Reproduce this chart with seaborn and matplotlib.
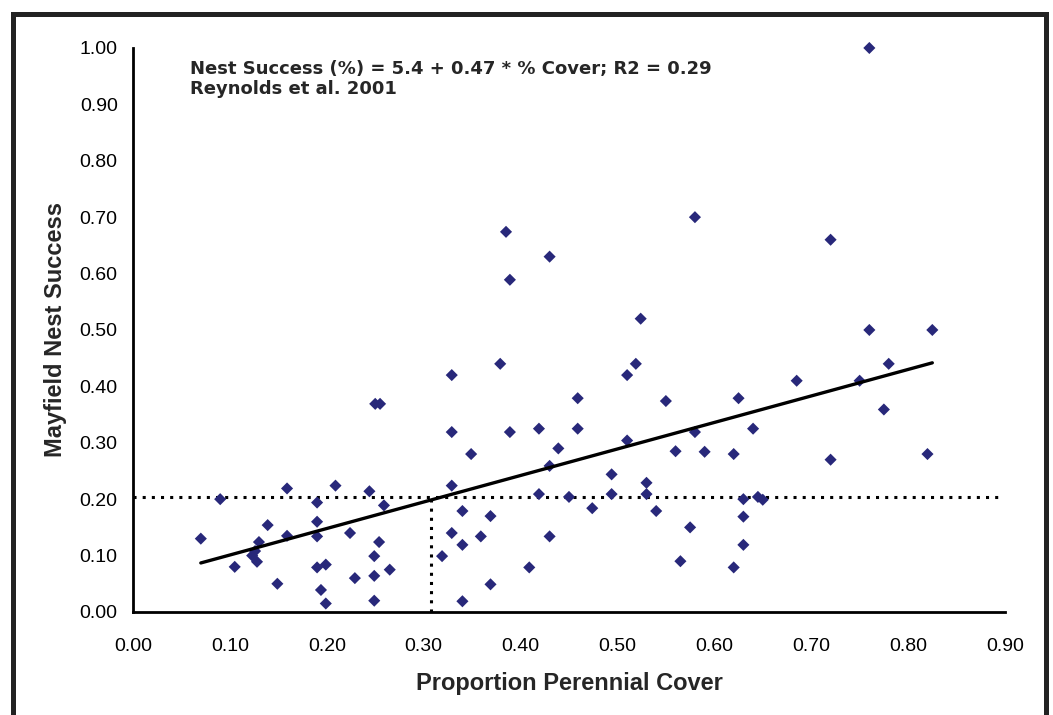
import matplotlib
matplotlib.use("Agg")
import matplotlib.pyplot as plt
import matplotlib.patches as mpatches
import numpy as np
import pandas as pd
import seaborn as sns

# ── Data ──────────────────────────────────────────────────────
cover = [0.070, 0.090, 0.105, 0.123, 0.126, 0.128, 0.130, 0.139, 0.149, 0.159,
         0.159, 0.190, 0.190, 0.190, 0.190, 0.194, 0.199, 0.199, 0.209, 0.224,
         0.229, 0.244, 0.249, 0.249, 0.249, 0.250, 0.255, 0.254, 0.259, 0.265,
         0.319, 0.329, 0.329, 0.329, 0.329, 0.340, 0.340, 0.340, 0.349, 0.359,
         0.369, 0.369, 0.379, 0.385, 0.389, 0.389, 0.409, 0.419, 0.419, 0.430,
         0.430, 0.430, 0.439, 0.450, 0.459, 0.459, 0.474, 0.494, 0.494, 0.510,
         0.510, 0.519, 0.524, 0.530, 0.530, 0.540, 0.550, 0.560, 0.565, 0.575,
         0.580, 0.580, 0.590, 0.620, 0.620, 0.625, 0.630, 0.630, 0.630, 0.640,
         0.645, 0.650, 0.685, 0.720, 0.720, 0.750, 0.760, 0.760, 0.775, 0.780,
         0.820, 0.825]
success = [0.130, 0.200, 0.080, 0.100, 0.108, 0.089, 0.124, 0.154, 0.050, 0.219,
           0.135, 0.194, 0.160, 0.134, 0.079, 0.039, 0.084, 0.015, 0.224, 0.140,
           0.060, 0.214, 0.099, 0.064, 0.020, 0.369, 0.369, 0.124, 0.189, 0.075,
           0.099, 0.420, 0.319, 0.224, 0.140, 0.179, 0.119, 0.019, 0.280, 0.134,
           0.170, 0.049, 0.440, 0.674, 0.589, 0.319, 0.079, 0.325, 0.209, 0.630,
           0.259, 0.134, 0.290, 0.204, 0.379, 0.325, 0.184, 0.244, 0.209, 0.420,
           0.304, 0.440, 0.520, 0.229, 0.209, 0.179, 0.374, 0.285, 0.090, 0.150,
           0.700, 0.319, 0.284, 0.280, 0.079, 0.379, 0.200, 0.169, 0.119, 0.325,
           0.204, 0.199, 0.410, 0.660, 0.270, 0.410, 1.000, 0.500, 0.359, 0.440,
           0.280, 0.500]

# published fit: Nest Success = 5.4 + 0.47 * % Cover
INTERCEPT = 0.054
SLOPE = 0.47
THRESH_Y = 0.203   # dotted reference level
THRESH_X = 0.308   # cover where the fit crosses it

x_ticks = np.round(np.arange(0, 0.91, 0.1), 2)
y_ticks = np.round(np.arange(0, 1.01, 0.1), 2)

df = pd.DataFrame({"cover": cover, "success": success})
fit = pd.DataFrame({"cover": [min(cover), max(cover)]})
fit["success"] = INTERCEPT + SLOPE * fit["cover"]

# ── Plot ──────────────────────────────────────────────────────
sns.set_style("white")
plt.rcParams["font.family"] = ["Liberation Sans", "DejaVu Sans"]

fig = plt.figure(figsize=(10.53, 7.15), dpi=100)
ax = fig.add_axes([0.1263, 0.1441, 0.8281, 0.7888])

sns.scatterplot(data=df, x="cover", y="success", marker="D", s=38,
                color="#28287a", edgecolor="none", linewidth=0, ax=ax,
                zorder=3, clip_on=False)
sns.lineplot(data=fit, x="cover", y="success", color="black",
             linewidth=2.4, ax=ax, zorder=4)

dot = (0, (1, 2))
ax.plot([0, 0.897], [THRESH_Y, THRESH_Y], color="black", lw=2.2,
        linestyle=dot, dash_capstyle="butt", zorder=2)
ax.plot([THRESH_X, THRESH_X], [0, THRESH_Y], color="black", lw=2.2,
        linestyle=dot, dash_capstyle="butt", zorder=2)

ax.set_xlim(0, 0.9)
ax.set_ylim(0, 1.0)
ax.set_xticks(x_ticks)
ax.set_yticks(y_ticks)
ax.set_xticklabels([f"{t:.2f}" for t in x_ticks])
ax.set_yticklabels([f"{t:.2f}" for t in y_ticks])
ax.tick_params(axis="both", direction="out", length=6, width=2,
               color="black", labelsize=14, labelcolor="black")
ax.tick_params(axis="x", pad=13)
ax.tick_params(axis="y", pad=5)

for side in ["top", "right"]:
    ax.spines[side].set_visible(False)
for side in ["left", "bottom"]:
    ax.spines[side].set_linewidth(2)
    ax.spines[side].set_color("black")

ax.set_xlabel("Proportion Perennial Cover", fontsize=17, fontweight="bold",
              labelpad=12)
ax.set_ylabel("Mayfield Nest Success", fontsize=17, fontweight="bold",
              labelpad=9)

note_font = ["DejaVu Sans", "Liberation Sans"]
ax.text(0.0585, 0.953, "Nest Success (%) = 5.4 + 0.47 * % Cover; R2 = 0.29",
        fontsize=13, fontweight="bold", family=note_font,
        va="baseline", ha="left")
ax.text(0.0585, 0.918, "Reynolds et al. 2001",
        fontsize=13, fontweight="bold", family=note_font,
        va="baseline", ha="left")

# outer chart frame (bottom edge falls outside the image)
frame = mpatches.Rectangle((12.5 / 1053, -0.05), (1045.5 - 12.5) / 1053,
                           1 - 14 / 715 + 0.05, transform=fig.transFigure,
                           fill=False, edgecolor="#222222", linewidth=3.6)
fig.patches.append(frame)

fig.savefig("out.png", dpi=100)
